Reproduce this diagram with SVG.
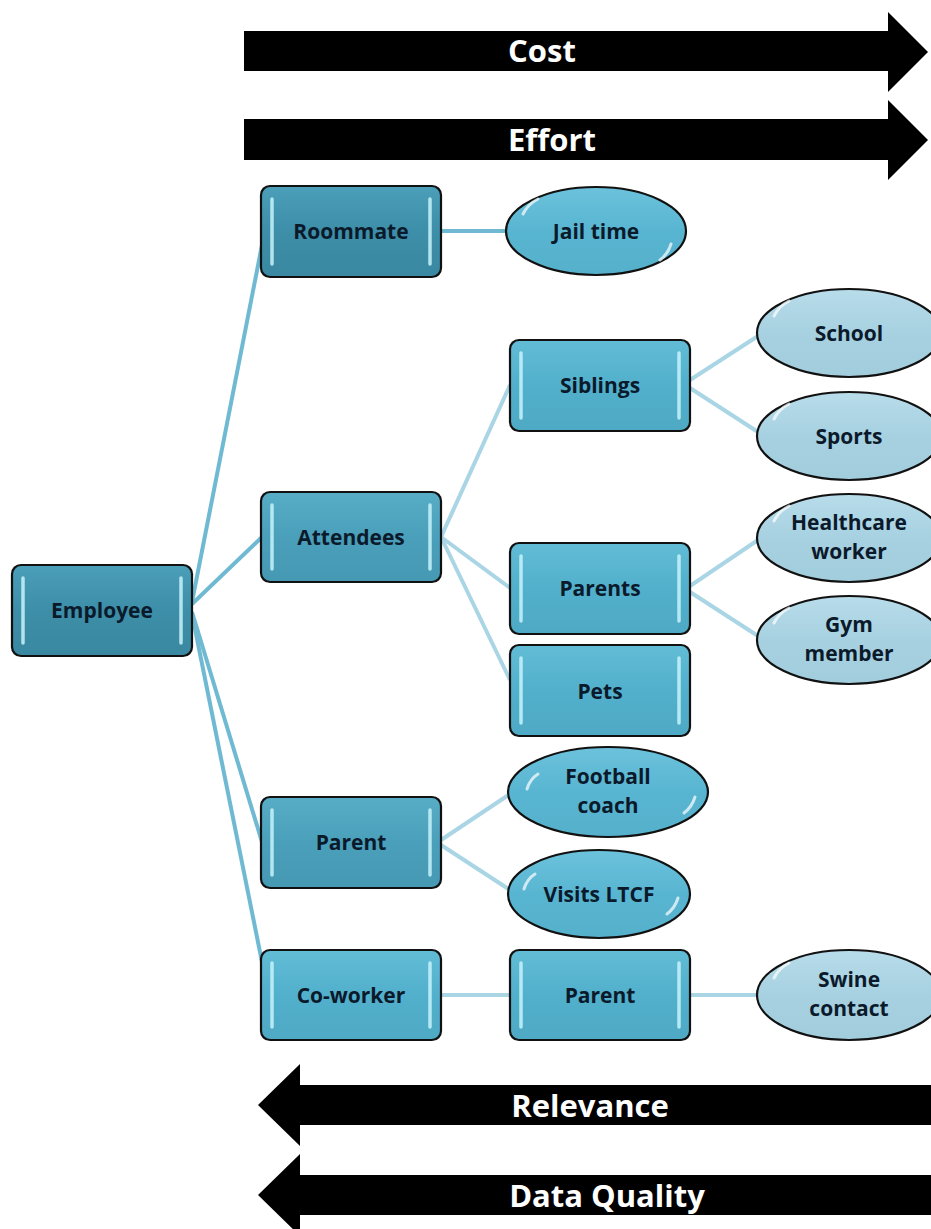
<svg xmlns="http://www.w3.org/2000/svg" width="931" height="1229" viewBox="0 0 931 1229">
<style>
.box{stroke:#111;stroke-width:2.2}
.hl{stroke:#c8f4fb;stroke-width:3.5;stroke-linecap:round;opacity:0.85}
.ohl{fill:none;stroke:#fff;stroke-width:3;stroke-linecap:round;opacity:0.7}
.lbl{font-family:"Open Sans","Liberation Sans",sans-serif;font-weight:bold;font-size:21px;fill:#0b1a2b;text-anchor:middle}
.big{font-family:"Open Sans","Liberation Sans",sans-serif;font-weight:bold;font-size:31px;fill:#fff;text-anchor:middle}
.c1{stroke:#6fbad2;stroke-width:4;fill:none}
.c2{stroke:#a9d5e4;stroke-width:4;fill:none}
</style>
<defs>
<linearGradient id="gDark" x1="0" y1="0" x2="0" y2="1"><stop offset="0" stop-color="#4c9fb9"/><stop offset="0.5" stop-color="#3d8ea8"/><stop offset="1" stop-color="#3a88a1"/></linearGradient>
<linearGradient id="gMid" x1="0" y1="0" x2="0" y2="1"><stop offset="0" stop-color="#58adc6"/><stop offset="0.5" stop-color="#4a9fba"/><stop offset="1" stop-color="#4699b3"/></linearGradient>
<linearGradient id="gLight" x1="0" y1="0" x2="0" y2="1"><stop offset="0" stop-color="#62bcd6"/><stop offset="0.5" stop-color="#52b0cc"/><stop offset="1" stop-color="#4ea9c4"/></linearGradient>
<linearGradient id="gOval" x1="0" y1="0" x2="0" y2="1"><stop offset="0" stop-color="#6cc2dc"/><stop offset="0.5" stop-color="#58b5d1"/><stop offset="1" stop-color="#55b0cb"/></linearGradient>
<linearGradient id="gPale" x1="0" y1="0" x2="0" y2="1"><stop offset="0" stop-color="#b8dcea"/><stop offset="0.5" stop-color="#a7d1e1"/><stop offset="1" stop-color="#a2cddd"/></linearGradient>
</defs>

<g id="arrows">
<g id="arrow-cost"><polygon points="244,31 888,31 888,12 928,52 888,92 888,71 244,71" fill="#000"/><text class="big" x="542" y="62">Cost</text></g>
<g id="arrow-effort"><polygon points="244,119 888,119 888,100 928,140 888,180 888,160 244,160" fill="#000"/><text class="big" x="552" y="151">Effort</text></g>
<g id="arrow-relevance"><polygon points="931,1085 300,1085 300,1064 258,1105 300,1146 300,1125 931,1125" fill="#000"/><text class="big" x="590" y="1117">Relevance</text></g>
<g id="arrow-dataquality"><polygon points="931,1175 300,1175 300,1154 258,1195 300,1236 300,1215 931,1215" fill="#000"/><text class="big" x="607" y="1207">Data Quality</text></g>
</g>

<g id="connectors">
<line class="c1" x1="192" y1="602" x2="262" y2="245"/>
<line class="c1" x1="192" y1="604" x2="262" y2="537"/>
<line class="c1" x1="192" y1="612" x2="262" y2="842"/>
<line class="c1" x1="192" y1="614" x2="262" y2="962"/>
<line class="c1" x1="441" y1="231" x2="506" y2="231"/>
<line class="c2" x1="441" y1="537" x2="510" y2="385"/>
<line class="c2" x1="441" y1="537" x2="510" y2="588"/>
<line class="c2" x1="441" y1="537" x2="510" y2="680"/>
<line class="c2" x1="690" y1="380" x2="758" y2="336"/>
<line class="c2" x1="690" y1="388" x2="758" y2="432"/>
<line class="c2" x1="690" y1="586" x2="758" y2="540"/>
<line class="c2" x1="690" y1="592" x2="758" y2="636"/>
<line class="c2" x1="441" y1="840" x2="510" y2="794"/>
<line class="c2" x1="441" y1="845" x2="510" y2="890"/>
<line class="c2" x1="441" y1="995" x2="510" y2="995"/>
<line class="c2" x1="690" y1="995" x2="758" y2="995"/>
</g>

<g id="employee"><rect class="box" x="12" y="565" width="180" height="91" rx="9" fill="url(#gDark)"/><line class="hl" x1="23" y1="578" x2="23" y2="643"/><line class="hl" x1="181" y1="578" x2="181" y2="643"/><text class="lbl" x="102" y="618">Employee</text></g>
<g id="roommate"><rect class="box" x="261" y="186" width="180" height="91" rx="9" fill="url(#gDark)"/><line class="hl" x1="272" y1="199" x2="272" y2="264"/><line class="hl" x1="430" y1="199" x2="430" y2="264"/><text class="lbl" x="351" y="239">Roommate</text></g>
<g id="attendees"><rect class="box" x="261" y="492" width="180" height="90" rx="9" fill="url(#gMid)"/><line class="hl" x1="272" y1="505" x2="272" y2="569"/><line class="hl" x1="430" y1="505" x2="430" y2="569"/><text class="lbl" x="351" y="545">Attendees</text></g>
<g id="parent"><rect class="box" x="261" y="797" width="180" height="91" rx="9" fill="url(#gMid)"/><line class="hl" x1="272" y1="810" x2="272" y2="875"/><line class="hl" x1="430" y1="810" x2="430" y2="875"/><text class="lbl" x="351" y="850">Parent</text></g>
<g id="coworker"><rect class="box" x="261" y="950" width="180" height="90" rx="9" fill="url(#gLight)"/><line class="hl" x1="272" y1="963" x2="272" y2="1027"/><line class="hl" x1="430" y1="963" x2="430" y2="1027"/><text class="lbl" x="351" y="1003">Co-worker</text></g>
<g id="siblings"><rect class="box" x="510" y="340" width="180" height="91" rx="9" fill="url(#gLight)"/><line class="hl" x1="521" y1="353" x2="521" y2="418"/><line class="hl" x1="679" y1="353" x2="679" y2="418"/><text class="lbl" x="600" y="393">Siblings</text></g>
<g id="parents"><rect class="box" x="510" y="543" width="180" height="91" rx="9" fill="url(#gLight)"/><line class="hl" x1="521" y1="556" x2="521" y2="621"/><line class="hl" x1="679" y1="556" x2="679" y2="621"/><text class="lbl" x="600" y="596">Parents</text></g>
<g id="pets"><rect class="box" x="510" y="645" width="180" height="91" rx="9" fill="url(#gLight)"/><line class="hl" x1="521" y1="658" x2="521" y2="723"/><line class="hl" x1="679" y1="658" x2="679" y2="723"/><text class="lbl" x="600" y="699">Pets</text></g>
<g id="parent2"><rect class="box" x="510" y="950" width="180" height="90" rx="9" fill="url(#gLight)"/><line class="hl" x1="521" y1="963" x2="521" y2="1027"/><line class="hl" x1="679" y1="963" x2="679" y2="1027"/><text class="lbl" x="600" y="1003">Parent</text></g>

<g id="jailtime"><ellipse class="box" cx="596" cy="231" rx="90" ry="44" fill="url(#gOval)"/><path class="ohl" d="M523,214 Q528,204 538,199"/><path class="ohl" d="M671,244 Q668,254 660,260"/><text class="lbl" x="596" y="239">Jail time</text></g>
<g id="school"><ellipse class="box" cx="849" cy="333" rx="92" ry="44" fill="url(#gPale)"/><path class="ohl" d="M774,316 Q779,306 789,301"/><text class="lbl" x="849" y="341">School</text></g>
<g id="sports"><ellipse class="box" cx="849" cy="436" rx="92" ry="44" fill="url(#gPale)"/><path class="ohl" d="M774,419 Q779,409 789,404"/><text class="lbl" x="849" y="444">Sports</text></g>
<g id="healthcare"><ellipse class="box" cx="849" cy="538" rx="92" ry="44" fill="url(#gPale)"/><path class="ohl" d="M774,521 Q779,511 789,506"/><text class="lbl" x="849" y="530">Healthcare</text><text class="lbl" x="849" y="559">worker</text></g>
<g id="gym"><ellipse class="box" cx="849" cy="640" rx="92" ry="44" fill="url(#gPale)"/><path class="ohl" d="M774,623 Q779,613 789,608"/><text class="lbl" x="849" y="632">Gym</text><text class="lbl" x="849" y="661">member</text></g>
<g id="football"><ellipse class="box" cx="608" cy="792" rx="100" ry="45" fill="url(#gOval)"/><path class="ohl" d="M527,789 Q530,779 538,774"/><path class="ohl" d="M695,797 Q692,807 684,813"/><text class="lbl" x="608" y="784">Football</text><text class="lbl" x="608" y="813">coach</text></g>
<g id="visits"><ellipse class="box" cx="599" cy="894" rx="91" ry="44" fill="url(#gOval)"/><path class="ohl" d="M524,889 Q527,879 535,874"/><path class="ohl" d="M678,898 Q675,908 667,914"/><text class="lbl" x="599" y="902">Visits LTCF</text></g>
<g id="swine"><ellipse class="box" cx="849" cy="995" rx="92" ry="45" fill="url(#gPale)"/><path class="ohl" d="M774,978 Q779,968 789,963"/><text class="lbl" x="849" y="987">Swine</text><text class="lbl" x="849" y="1016">contact</text></g>
</svg>
